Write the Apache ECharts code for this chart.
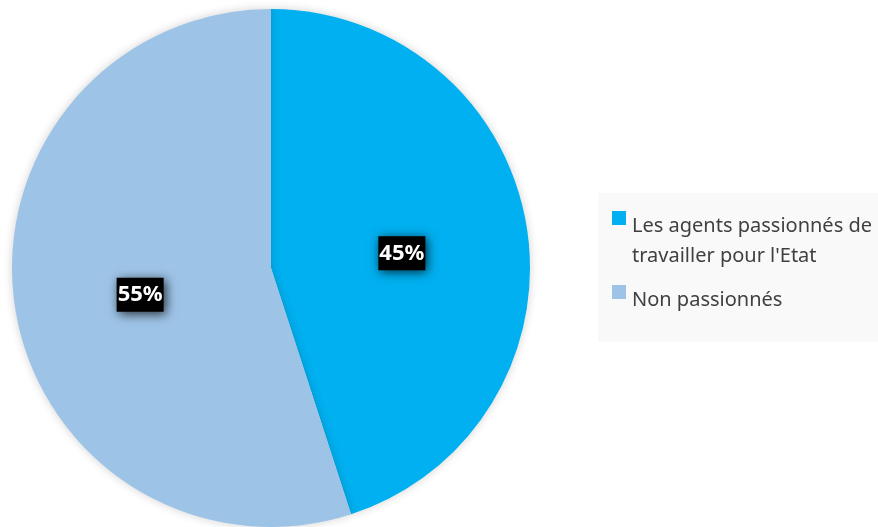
<!DOCTYPE html>
<html><head><meta charset="utf-8">
<script src="https://cdn.jsdelivr.net/npm/echarts@6/dist/echarts.min.js"></script>
<style>html,body{margin:0;padding:0;background:#fff}#c{width:878px;height:527px}</style>
</head><body><div id="c"></div>
<script>
const categories = ["Les agents passionnés de travailler pour l'Etat", "Non passionnés"];
const legendLines = [["Les agents passionnés de", "travailler pour l'Etat"], ["Non passionnés"]];
const values = [45, 55];
const colors = ['#00B0F0', '#9DC3E6'];

const chart = echarts.init(document.getElementById('c'));
chart.setOption({
  animation: false,
  graphic: [{type: 'rect', left: 598, top: 193, shape: {width: 290, height: 149}, style: {fill: '#f9f9f9'}, z: -1}],
  legend: {
    orient: 'vertical', left: 602, top: 206,
    itemWidth: 0, itemHeight: 0, itemGap: 19, icon: 'rect',
    itemStyle: {opacity: 0},
    data: categories,
    formatter: function (name) {
      const i = categories.indexOf(name);
      const lines = legendLines[i];
      let s = '{m' + i + '|}{t|' + lines[0] + '}';
      for (let k = 1; k < lines.length; k++) s += '\n{s|}{t|' + lines[k] + '}';
      return s;
    },
    textStyle: {
      rich: {
        m0: {width: 14, height: 14, backgroundColor: colors[0], verticalAlign: 'top', align: 'left'},
        m1: {width: 14, height: 14, backgroundColor: colors[1], verticalAlign: 'top', align: 'left'},
        s: {width: 14},
        t: {fontFamily: 'Noto Sans', fontSize: 20, color: '#404040', lineHeight: 30, padding: [0, 0, 0, 6]}
      }
    }
  },
  series: [{
    type: 'pie',
    center: [271, 268], radius: 259,
    startAngle: 90, clockwise: true,
    data: categories.map((c, i) => ({name: c, value: values[i], itemStyle: {color: colors[i]}})),
    itemStyle: {shadowBlur: 10, shadowColor: 'rgba(0,0,0,0.18)'},
    label: {
      position: 'inside',
      formatter: '{d}%',
      color: '#fff', fontFamily: 'Noto Sans', fontWeight: 'bold', fontSize: 22, lineHeight: 22,
      backgroundColor: '#000', padding: [12, 1, 0, 1],
      shadowBlur: 10, shadowColor: 'rgba(0,0,0,0.75)', shadowOffsetX: 2, shadowOffsetY: 2
    },
    labelLayout: function () { return {dy: 6}; },
    emphasis: {disabled: true},
    labelLine: {show: false}
  }]
});
</script></body></html>
